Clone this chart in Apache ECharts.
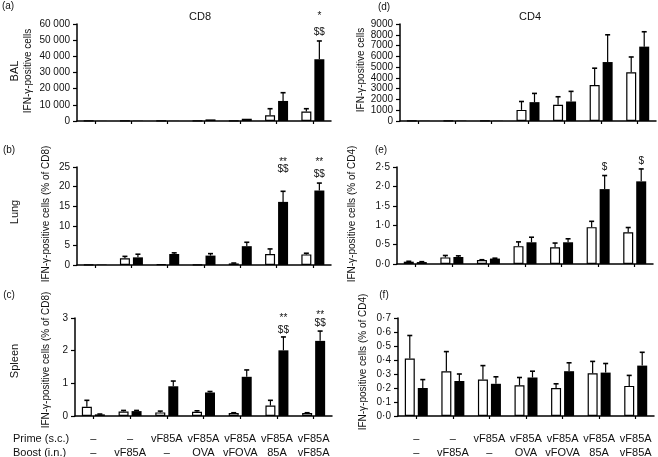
<!DOCTYPE html>
<html>
<head>
<meta charset="utf-8">
<script src="https://cdn.jsdelivr.net/npm/echarts@6/dist/echarts.min.js"></script>
<style>html,body{margin:0;padding:0;background:#fff}#c{width:658px;height:457px}</style>
</head>
<body>
<div id="c"></div>
<script>
// ---- categories ----
const groupIds = ['1','2','3','4','5','6','7'];
const primeLabels = ['–','–','vF85A','vF85A','vF85A','vF85A','vF85A'];
const boostLabels = ['–','vF85A','–','OVA','vFOVA','85A','vF85A'];

// ---- (a) BAL CD8, IFN-γ-positive cells ----
const balCd8Open       = [60, 80, 60, 60, 100, 3500, 5800];
const balCd8OpenSem    = [0, 0, 0, 0, 0, 4100, 1800];
const balCd8Filled     = [80, 150, 80, 1000, 1400, 12400, 38200];
const balCd8FilledSem  = [0, 0, 0, 0, 0, 5100, 11300];
// ---- (d) BAL CD4 ----
const balCd4Open       = [20, 20, 20, 1030, 1500, 3340, 4530];
const balCd4OpenSem    = [0, 0, 0, 780, 750, 1560, 1410];
const balCd4Filled     = [20, 30, 20, 1750, 1810, 5470, 6900];
const balCd4FilledSem  = [0, 0, 0, 810, 940, 2530, 1380];
// ---- (b) Lung CD8, % of CD8 ----
const lungCd8Open      = [0.1, 1.7, 0.2, 0.1, 0.4, 2.8, 2.7];
const lungCd8OpenSem   = [0, 0.5, 0, 0, 0.1, 1.3, 0.3];
const lungCd8Filled    = [0.1, 1.95, 2.8, 2.4, 4.8, 16.1, 19.0];
const lungCd8FilledSem = [0, 0.8, 0.3, 0.5, 1.0, 2.7, 1.9];
// ---- (e) Lung CD4, % of CD4 ----
const lungCd4Open      = [0.06, 0.17, 0.10, 0.46, 0.43, 0.95, 0.82];
const lungCd4OpenSem   = [0.01, 0.05, 0.01, 0.11, 0.11, 0.15, 0.12];
const lungCd4Filled    = [0.05, 0.18, 0.14, 0.56, 0.56, 1.93, 2.13];
const lungCd4FilledSem = [0.01, 0.03, 0.01, 0.13, 0.09, 0.35, 0.32];
// ---- (c) Spleen CD8 ----
const spleenCd8Open      = [0.28, 0.14, 0.11, 0.13, 0.09, 0.32, 0.09];
const spleenCd8OpenSem   = [0.20, 0.03, 0.04, 0.03, 0.01, 0.16, 0.01];
const spleenCd8Filled    = [0.05, 0.15, 0.91, 0.72, 1.20, 2.01, 2.30];
const spleenCd8FilledSem = [0.01, 0.02, 0.16, 0.03, 0.21, 0.41, 0.30];
// ---- (f) Spleen CD4 ----
const spleenCd4Open      = [0.41, 0.32, 0.26, 0.22, 0.20, 0.305, 0.215];
const spleenCd4OpenSem   = [0.165, 0.14, 0.10, 0.055, 0.03, 0.085, 0.075];
const spleenCd4Filled    = [0.20, 0.25, 0.23, 0.275, 0.32, 0.31, 0.36];
const spleenCd4FilledSem = [0.06, 0.05, 0.05, 0.045, 0.06, 0.065, 0.095];

// ---- significance marks: [group index, value height, text] (on filled bars) ----
const marksA = [[6, 66600, '*'], [6, 54900, '$$']];
const marksB = [[5, 27, '**'], [5, 24.5, '$$'], [6, 27, '**'], [6, 23.2, '$$']];
const marksC = [[5, 3.09, '**'], [5, 2.63, '$$'], [6, 3.19, '**'], [6, 2.83, '$$']];
const marksE = [[5, 2.49, '$'], [6, 2.64, '$']];

// ---- y-axis ticks ----
const yMaxA = 60000, yStepA = 10000;
const yMaxD = 9000,  yStepD = 1000;
const yMaxB = 25,    yStepB = 5;
const yMaxE = 2.5,   yStepE = 0.5;
const yMaxC = 3,     yStepC = 1;
const yMaxF = 0.7,   yStepF = 0.1;

const FONT = '"Liberation Sans", Arial, Helvetica, sans-serif';
const INK = '#111';
const BAR_W = 10, HALF = 6.5;

const panels = [
  {grid:{left:77, top:24, width:254, height:97}, max:yMaxA, step:yStepA, fmt:v => v >= 10000 ? String(v).replace(/(\d+)(\d{3})$/, '$1 $2') : String(v),
   open:balCd8Open, openSem:balCd8OpenSem, filled:balCd8Filled, filledSem:balCd8FilledSem, marks:marksA, labels:false},
  {grid:{left:400, top:24, width:256, height:97}, max:yMaxD, step:yStepD, fmt:v => String(v),
   open:balCd4Open, openSem:balCd4OpenSem, filled:balCd4Filled, filledSem:balCd4FilledSem, marks:[], labels:false},
  {grid:{left:77, top:167, width:254, height:98}, max:yMaxB, step:yStepB, fmt:v => String(v),
   open:lungCd8Open, openSem:lungCd8OpenSem, filled:lungCd8Filled, filledSem:lungCd8FilledSem, marks:marksB, labels:false},
  {grid:{left:397, top:167, width:256, height:97}, max:yMaxE, step:yStepE, fmt:v => v.toFixed(1).replace('.', '·'),
   open:lungCd4Open, openSem:lungCd4OpenSem, filled:lungCd4Filled, filledSem:lungCd4FilledSem, marks:marksE, labels:false},
  {grid:{left:75, top:318, width:257, height:98}, max:yMaxC, step:yStepC, fmt:v => String(v),
   open:spleenCd8Open, openSem:spleenCd8OpenSem, filled:spleenCd8Filled, filledSem:spleenCd8FilledSem, marks:marksC, labels:true},
  {grid:{left:398, top:318, width:256, height:98}, max:yMaxF, step:yStepF, fmt:v => v.toFixed(1).replace('.', '·'),
   open:spleenCd4Open, openSem:spleenCd4OpenSem, filled:spleenCd4Filled, filledSem:spleenCd4FilledSem, marks:[], labels:true}
];

const grids = [], xAxes = [], yAxes = [], series = [];

function errSeries(idx, means, sems, offset) {
  return {
    type:'custom', xAxisIndex:idx, yAxisIndex:idx, silent:true, z:5,
    data: means.map((m, i) => [i, m, m + sems[i]]),
    encode:{x:0, y:[1,2]},
    renderItem(params, api) {
      const lo = api.value(1), hi = api.value(2);
      if (!(hi > lo)) return null;
      const i = api.value(0);
      const b = api.coord([i, lo]), t = api.coord([i, hi]);
      const x = b[0] + offset;
      return {type:'group', children:[
        {type:'line', shape:{x1:x, y1:b[1], x2:x, y2:t[1]}, style:{stroke:'#000', lineWidth:1.2}},
        {type:'line', shape:{x1:x-2.5, y1:t[1], x2:x+2.5, y2:t[1]}, style:{stroke:'#000', lineWidth:1.6}}
      ]};
    }
  };
}

function markSeries(idx, marks) {
  return {
    type:'custom', xAxisIndex:idx, yAxisIndex:idx, silent:true, z:6, clip:false,
    data: marks.map(m => [m[0], m[1]]),
    encode:{x:0, y:1},
    renderItem(params, api) {
      const p = api.coord([api.value(0), api.value(1)]);
      const txt = marks[params.dataIndex][2];
      const star = txt.indexOf('*') >= 0;
      return {type:'text', x:p[0] + HALF, y:p[1] + (star ? 3 : 0),
        style:{text:txt, fill:INK, font:(star ? '10px ' : '10px ') + FONT, align:'center', verticalAlign:'middle'}};
    }
  };
}

panels.forEach((p, idx) => {
  grids.push(Object.assign({outerBoundsMode:'none', containLabel:false}, p.grid));
  xAxes.push({
    type:'category', gridIndex:idx, data:groupIds,
    axisLine:{show:true, lineStyle:{color:'#000', width:1.5}},
    axisTick:{show:true, alignWithLabel:true, length:3, lineStyle:{color:'#000', width:1.2}},
    axisLabel:{show:p.labels, interval:0, margin:16, lineHeight:14, color:INK, fontSize:11, fontFamily:FONT,
      formatter:(v, i) => primeLabels[i] + '\n' + boostLabels[i]},
    splitLine:{show:false}
  });
  yAxes.push({
    type:'value', gridIndex:idx, min:0, max:p.max, interval:p.step,
    axisLine:{show:true, lineStyle:{color:'#000', width:1.5}},
    axisTick:{show:true, length:4, lineStyle:{color:'#000', width:1.2}},
    axisLabel:{show:true, margin:7, color:INK, fontSize:10, fontFamily:FONT, formatter:p.fmt},
    splitLine:{show:false}
  });
  series.push({type:'bar', xAxisIndex:idx, yAxisIndex:idx, data:p.open, barWidth:BAR_W, barGap:'30%',
    itemStyle:{color:'#fff', borderColor:'#000', borderWidth:1.2}, silent:true});
  series.push({type:'bar', xAxisIndex:idx, yAxisIndex:idx, data:p.filled, barWidth:BAR_W, barGap:'30%',
    itemStyle:{color:'#000'}, silent:true});
  series.push(errSeries(idx, p.open, p.openSem, -HALF));
  series.push(errSeries(idx, p.filled, p.filledSem, HALF));
  if (p.marks.length) series.push(markSeries(idx, p.marks));
});

function txt(x, y, s, size, opts) {
  return Object.assign({type:'text', x:x, y:y, silent:true,
    style:{text:s, fill:INK, font:(size || 11) + 'px ' + FONT, align:'center', verticalAlign:'middle'}}, opts || {});
}
function vtxt(x, y, s, size) {
  return {type:'text', x:x, y:y, rotation:Math.PI/2, silent:true,
    style:{text:s, fill:INK, font:(size || 10) + 'px ' + FONT, align:'center', verticalAlign:'middle'}};
}

const graphics = [
  txt(8, 6, '(a)', 10), txt(384, 7, '(d)', 10), txt(9, 150, '(b)', 10),
  txt(381, 150, '(e)', 10), txt(9, 295, '(c)', 10), txt(384, 295, '(f)', 10),
  txt(200, 17, 'CD8', 11), txt(530, 17, 'CD4', 11),
  vtxt(15, 71, 'BAL', 11), vtxt(15, 212, 'Lung', 11), vtxt(15, 361, 'Spleen', 11),
  vtxt(28, 71, 'IFN-γ-positive cells', 10),
  vtxt(46, 214, 'IFN-γ-positive cells (% of CD8)', 10),
  vtxt(46, 360, 'IFN-γ-positive cells (% of CD8)', 10),
  vtxt(361, 70, 'IFN-γ-positive cells', 10),
  vtxt(352, 214, 'IFN-γ-positive cells (% of CD4)', 10),
  vtxt(363, 362, 'IFN-γ-positive cells (% of CD4)', 10),
  {type:'text', x:13, y:439, silent:true, style:{text:'Prime (s.c.)', fill:INK, font:'11px ' + FONT, align:'left', verticalAlign:'middle'}},
  {type:'text', x:13, y:453, silent:true, style:{text:'Boost (i.n.)', fill:INK, font:'11px ' + FONT, align:'left', verticalAlign:'middle'}}
];

const chart = echarts.init(document.getElementById('c'), null, {renderer:'canvas'});
chart.setOption({
  animation:false, backgroundColor:'#fff',
  textStyle:{fontFamily:FONT},
  grid:grids, xAxis:xAxes, yAxis:yAxes, series:series, graphic:graphics
});
</script>
</body>
</html>
